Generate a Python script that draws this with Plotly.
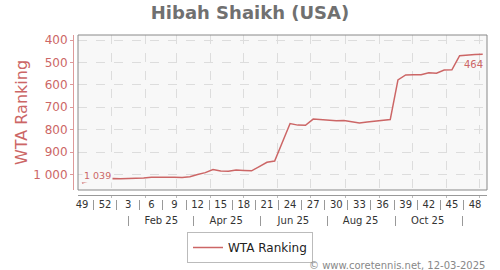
import pandas as pd
import plotly.graph_objects as go

# ---- data ----
dates = pd.date_range("2024-12-05", periods=53, freq="7D")  # weekly (ISO week centre)
ranks = [1039, 1027, 1020, 1018, 1018, 1019, 1019, 1018, 1016, 1013, 1012, 1012, 1013,
         1014, 1010, 1000, 992, 978, 985, 986, 980, 982, 984, 965, 946, 940, 857, 773,
         780, 781, 753, 756, 758, 761, 759, 764, 770, 766, 763, 761, 755, 578, 556, 555,
         555, 546, 548, 534, 533, 470, 466, 465, 464]
week_labels = ["49", "52", "3", "6", "9", "12", "15", "18", "21", "24", "27", "30",
               "33", "36", "39", "42", "45", "48"]
month_labels = ["Feb 25", "Apr 25", "Jun 25", "Aug 25", "Oct 25"]
month_label_dates = ["2025-02-15", "2025-04-15", "2025-06-15", "2025-08-15", "2025-10-15"]
month_sep_dates = ["2025-01-16", "2025-03-16", "2025-05-16", "2025-07-16", "2025-09-16", "2025-11-16"]
grid_dates = [f"2025-{m:02d}-01" for m in range(1, 13)]
y_ticks = [400, 500, 600, 700, 800, 900, 1000]

week_tick_dates = list(dates[::3])
week_sep_dates = [d + pd.Timedelta(hours=252) for d in week_tick_dates[:-1]]

RED = "#cc6666"
FONT = "DejaVu Sans"
xr = ["2024-12-01 09:00", "2025-12-07 21:00"]

fig = go.Figure()
fig.add_trace(go.Scatter(x=dates, y=ranks, mode="lines", name="WTA Ranking",
                         line=dict(color=RED, width=1.5)))

def fmt(v):
    return f"{v:,}".replace(",", " ")

fig.add_annotation(x=dates[0], y=ranks[0], text=fmt(ranks[0]), showarrow=False,
                   xanchor="left", yanchor="middle", xshift=0, yshift=8,
                   font=dict(family=FONT, size=9.5, color=RED), bgcolor="#f8f8f8", borderpad=1)
fig.add_annotation(x=dates[-1], y=ranks[-1], text=fmt(ranks[-1]), showarrow=False,
                   xanchor="right", yanchor="middle", xshift=2, yshift=-10,
                   font=dict(family=FONT, size=10, color=RED))

fig.add_annotation(xref="paper", yref="paper", x=1, y=-0.15, xanchor="right", yanchor="middle",
                   text="© www.coretennis.net, 12-03-2025", showarrow=False,
                   font=dict(family=FONT, size=10, color="#888888"))

fig.add_shape(type="rect", xref="x domain", yref="y domain", x0=0, x1=1, y0=0, y1=1,
              line=dict(color="#888888", width=1))

fig.update_layout(
    width=500, height=270,
    margin=dict(l=70, r=13, t=35, b=35, autoexpand=False),
    paper_bgcolor="white", plot_bgcolor="#f8f8f8",
    font=dict(family=FONT),
    separators=". ",
    title=dict(text="<b>Hibah Shaikh (USA)</b>", x=0.5, xref="container", xanchor="center",
               y=1 - 13 / 270, yref="container", yanchor="middle",
               font=dict(family=FONT, size=18, color="#707070")),
    showlegend=True,
    legend=dict(orientation="h", xref="container", yref="container", x=0.5, xanchor="center",
                y=1 - 232 / 270, yanchor="top", bgcolor="white", bordercolor="#bbbbbb",
                borderwidth=1, font=dict(family=FONT, size=12, color="#222222")),
    xaxis=dict(type="date", domain=[(78 - 70) / 417, 1], range=xr, anchor="y", automargin=False,
               tickmode="array", tickvals=grid_dates, showticklabels=False, ticks="",
               showgrid=True, gridcolor="#dddddd", griddash="dash", gridwidth=1,
               zeroline=False, showline=False),
    xaxis2=dict(type="date", overlaying="x", anchor="free", position=0.2, range=xr,
                automargin=False,
                tickmode="array", tickvals=week_tick_dates, ticktext=week_labels,
                ticks="", showgrid=False, showline=True, linecolor="#999999",
                tickfont=dict(family=FONT, size=10, color="#333333"),
                minor=dict(tickmode="array", tickvals=grid_dates, ticks="outside",
                           ticklen=2, tickcolor="#bbbbbb", showgrid=False)),
    xaxis3=dict(type="date", overlaying="x", anchor="free", position=0.18, range=xr,
                automargin=False,
                tickmode="array", tickvals=week_sep_dates, showticklabels=False,
                ticks="outside", ticklen=10, tickcolor="#999999", showgrid=False, showline=False),
    xaxis4=dict(type="date", overlaying="x", anchor="free", position=0.1, range=xr,
                automargin=False,
                tickmode="array", tickvals=month_sep_dates, showticklabels=False,
                ticks="outside", ticklen=10, tickcolor="#999999", showgrid=False, showline=False),
    xaxis5=dict(type="date", overlaying="x", anchor="free", position=0.11, range=xr,
                automargin=False,
                tickmode="array", tickvals=month_label_dates, ticktext=month_labels,
                ticks="", showgrid=False, showline=False,
                tickfont=dict(family=FONT, size=10, color="#333333")),
    yaxis=dict(domain=[0.225, 1], range=[1069.6, 377.7], anchor="free", position=3 / 417,
               automargin=False,
               tickmode="array", tickvals=y_ticks, tickformat=",d",
               ticks="outside", ticklen=3, tickcolor="#dd9999",
               showline=True, linecolor="#dd9999", linewidth=1,
               showgrid=True, gridcolor="#dddddd", griddash="dash", zeroline=False,
               tickfont=dict(family=FONT, size=12, color=RED),
               title=dict(text="WTA Ranking", standoff=0,
                          font=dict(family=FONT, size=16, color=RED))),
)

# dummy invisible traces so overlay axes render
for ax in ["x2", "x3", "x4", "x5"]:
    fig.add_trace(go.Scatter(x=[dates[0]], y=[ranks[0]], xaxis=ax, yaxis="y", mode="markers",
                             marker=dict(opacity=0), showlegend=False, hoverinfo="skip"))

fig.write_html("out.html")
